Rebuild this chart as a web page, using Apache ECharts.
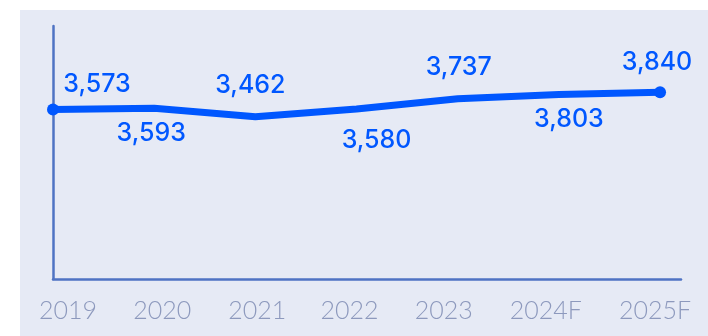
<!DOCTYPE html>
<html>
<head>
<meta charset="utf-8">
<script src="https://cdn.jsdelivr.net/npm/echarts@6/dist/echarts.min.js"></script>
<style>
  html, body { margin: 0; padding: 0; background: #ffffff; }
  #chart { width: 708px; height: 336px; }
</style>
</head>
<body>
<div id="chart"></div>
<script>
// Yearly totals, last two years are forecasts
const categories = ['2019', '2020', '2021', '2022', '2023', '2024F', '2025F'];
const values = [3573, 3593, 3462, 3580, 3737, 3803, 3840];

// Value label placement around each point (dx, dy from the point)
const labelOffsets = [[44, -25], [-3, 25], [-5, -31], [20, 31], [1, -31], [10, 25], [-3, -30]];
// Horizontal nudge of each year label relative to its point
const tickShifts = [15, 8, 2, -7, -14, -13, -5];

const BLUE = '#0057ff';
const AXIS = '#4f73c3';
const TICK_TEXT = '#8d99bd';
const PANEL = '#e6eaf5';

const tickRich = {};
tickShifts.forEach((s, i) => {
  tickRich['s' + i] = {
    fontFamily: 'Lato', fontWeight: 300, fontSize: 25, color: TICK_TEXT,
    padding: s >= 0 ? [0, 0, 0, 2 * s] : [0, -2 * s, 0, 0]
  };
});

const chart = echarts.init(document.getElementById('chart'), null, { renderer: 'canvas' });

chart.setOption({
  animation: false,
  backgroundColor: '#ffffff',
  graphic: [{
    type: 'rect', left: 20, top: 10, z: -10,
    shape: { width: 688, height: 326 },
    style: { fill: PANEL }
  }],
  grid: { left: 53, right: 27, top: 26, bottom: 57 },
  xAxis: {
    type: 'value',
    min: 0,
    max: 6.207,
    interval: 1,
    axisLine: { show: true, lineStyle: { color: AXIS, width: 2.5 } },
    axisTick: { show: false },
    splitLine: { show: false },
    axisLabel: {
      margin: 19,
      showMaxLabel: false,
      formatter: v => Number.isInteger(v) && categories[v] !== undefined ? '{s' + v + '|' + categories[v] + '}' : '',
      rich: tickRich
    }
  },
  yAxis: {
    type: 'value',
    min: 960,
    max: 4860,
    axisLine: { show: true, lineStyle: { color: AXIS, width: 2.5 } },
    axisTick: { show: false },
    axisLabel: { show: false },
    splitLine: { show: false }
  },
  series: [{
    type: 'line',
    data: values.map((v, i) => ({
      value: [i, v],
      symbolSize: (i === 0 || i === values.length - 1) ? 12 : 0,
      label: { offset: labelOffsets[i] }
    })),
    symbol: 'circle',
    itemStyle: { color: BLUE },
    lineStyle: { color: BLUE, width: 7, cap: 'round', join: 'round' },
    label: {
      show: true,
      position: 'inside',
      align: 'center',
      verticalAlign: 'middle',
      fontFamily: 'Inter',
      fontSize: 25,
      fontWeight: 500,
      color: BLUE,
      formatter: p => p.value[1].toLocaleString('en-US')
    }
  }]
});
</script>
</body>
</html>
